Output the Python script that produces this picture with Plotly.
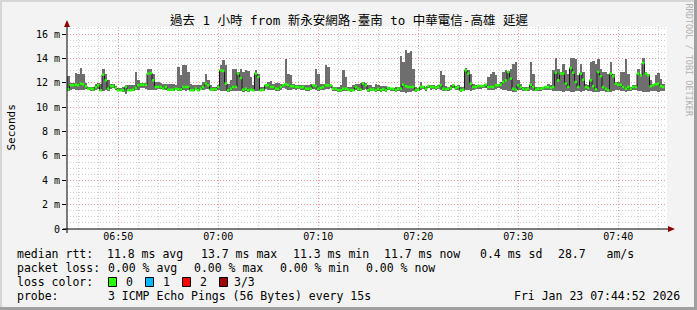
import numpy as np
import pandas as pd
import plotly.graph_objects as go

# ---------------- data (values in ms, one per 15 s step) ----------------
start_time = "2026-01-23 06:44:52"
end_time = "2026-01-23 07:44:52"
step_seconds = 15

median_ms = [
    11.48, 11.81, 11.81, 11.86, 11.81, 11.95, 11.89, 11.73, 11.53, 11.53,
    11.48, 11.67, 11.81, 11.40, 12.68, 12.22, 11.53, 11.75, 11.75, 11.59,
    11.40, 11.40, 11.40, 11.67, 11.40, 11.40, 11.45, 11.59, 11.81, 11.86,
    11.86, 11.86, 12.77, 12.82, 12.22, 11.67, 11.67, 11.67, 11.53, 11.67,
    11.45, 11.45, 11.45, 11.53, 11.48, 11.48, 11.67, 11.67, 11.67, 11.40,
    11.40, 11.53, 11.40, 11.53, 11.67, 11.95, 11.81, 11.45, 11.48, 11.48,
    11.67, 13.04, 12.99, 11.95, 11.40, 11.53, 11.67, 11.67, 12.77, 12.41,
    11.45, 11.53, 11.40, 11.45, 11.40, 12.77, 12.49, 11.40, 11.45, 11.81,
    11.81, 11.67, 11.67, 11.53, 11.53, 11.67, 11.81, 11.89, 11.86, 11.73,
    11.73, 11.67, 11.67, 11.62, 11.67, 11.53, 11.53, 11.53, 11.81, 11.75,
    11.53, 11.59, 11.67, 11.81, 11.81, 11.81, 11.53, 11.53, 11.40, 11.40,
    11.53, 11.53, 11.45, 11.40, 11.40, 11.67, 11.53, 11.45, 11.95, 11.81,
    11.40, 11.48, 11.45, 11.40, 11.53, 11.40, 11.48, 11.40, 11.59, 11.53,
    11.53, 11.40, 11.53, 11.53, 11.86, 11.73, 11.67, 11.67, 11.67, 11.40,
    11.45, 11.67, 11.67, 11.53, 11.75, 11.67, 11.67, 11.62, 11.67, 11.81,
    11.53, 11.48, 11.53, 11.59, 11.81, 11.59, 11.67, 11.40, 11.45, 13.04,
    12.77, 11.95, 11.67, 11.67, 11.75, 11.75, 11.75, 11.86, 11.67, 11.67,
    11.67, 11.81, 11.81, 11.86, 12.08, 12.22, 12.90, 12.36, 11.53, 11.45,
    11.81, 11.67, 11.53, 11.45, 11.53, 11.86, 11.67, 11.45, 11.53, 11.53,
    11.59, 11.67, 11.67, 11.59, 11.67, 12.85, 12.22, 12.77, 12.77, 11.95,
    11.67, 13.23, 12.85, 12.08, 11.67, 12.77, 12.27, 11.67, 11.59, 12.22,
    11.73, 11.48, 12.90, 12.55, 11.67, 11.53, 11.40, 12.77, 12.55, 11.95,
    11.86, 11.86, 11.67, 11.53, 11.67, 11.53, 11.67, 11.67, 12.77, 12.63,
    13.64, 12.77, 12.63, 11.73, 11.81, 11.89, 11.95, 11.73, 11.67, None,
]

max_ms = [
    12.55, 12.00, 12.00, 12.85, 12.77, 13.26, 12.77, 12.00, 11.67, 11.67,
    11.67, 11.95, 12.03, 11.95, 13.18, 12.77, 12.22, 11.95, 11.95, 11.73,
    11.59, 11.59, 11.67, 11.81, 11.86, 11.86, 11.81, 12.88, 12.22, 12.00,
    12.00, 12.00, 13.18, 13.15, 12.77, 12.08, 12.08, 12.00, 11.95, 11.95,
    11.95, 11.89, 11.95, 11.81, 13.32, 12.63, 13.45, 13.45, 12.90, 11.95,
    11.81, 11.81, 11.81, 11.81, 12.08, 12.77, 12.22, 11.81, 11.67, 11.67,
    11.81, 13.45, 13.86, 13.45, 11.95, 12.22, 13.18, 13.18, 12.90, 13.18,
    12.90, 13.04, 12.99, 12.49, 11.81, 13.04, 12.77, 11.67, 11.67, 11.95,
    12.08, 12.14, 11.95, 12.00, 12.00, 11.95, 11.95, 13.95, 12.77, 12.63,
    11.95, 11.86, 11.86, 11.81, 11.86, 11.81, 11.81, 11.89, 11.86, 13.18,
    12.77, 11.95, 11.95, 13.45, 13.32, 11.95, 11.67, 11.67, 11.67, 11.81,
    13.04, 12.49, 11.67, 11.67, 11.86, 11.95, 11.95, 12.00, 12.08, 12.00,
    11.81, 11.81, 11.67, 11.89, 11.81, 11.73, 11.73, 11.73, 11.67, 11.59,
    11.59, 11.67, 11.67, 14.19, 13.73, 14.68, 14.47, 14.60, 13.18, 11.67,
    11.59, 12.08, 11.75, 11.67, 11.81, 11.81, 11.81, 11.73, 11.81, 12.99,
    12.63, 11.73, 11.67, 11.81, 11.86, 11.73, 11.86, 11.67, 11.67, 13.26,
    13.10, 12.77, 11.95, 11.81, 11.86, 11.86, 11.86, 11.95, 12.49, 12.77,
    12.90, 12.63, 11.95, 12.08, 12.90, 13.04, 12.99, 13.18, 13.59, 13.73,
    12.22, 11.95, 11.67, 11.67, 11.67, 13.73, 12.77, 11.67, 11.67, 11.67,
    11.67, 11.75, 11.95, 11.81, 13.04, 14.08, 13.18, 12.90, 13.59, 13.04,
    12.77, 14.08, 14.08, 14.00, 12.63, 13.59, 12.90, 11.95, 11.81, 13.73,
    13.81, 13.59, 13.95, 13.18, 12.90, 12.90, 12.77, 13.73, 12.77, 12.08,
    12.08, 12.90, 12.90, 14.00, 12.77, 11.67, 11.81, 11.81, 13.18, 12.77,
    14.08, 12.90, 12.77, 12.22, 11.95, 12.63, 12.82, 12.36, 11.95, None,
]

min_ms = [
    11.35, 11.45, 11.50, 11.45, 11.40, 11.40, 11.45, 11.50, 11.40, 11.38,
    11.35, 11.45, 11.50, 11.30, 11.35, 11.40, 11.38, 11.50, 11.55, 11.45,
    11.30, 11.30, 11.28, 11.12, 11.30, 11.30, 11.35, 11.40, 11.45, 11.55,
    11.55, 11.50, 11.40, 11.45, 11.40, 11.45, 11.50, 11.50, 11.40, 11.45,
    11.35, 11.35, 11.35, 11.40, 11.30, 11.35, 11.40, 11.35, 11.40, 11.30,
    11.30, 11.40, 11.30, 11.40, 11.45, 11.50, 11.50, 11.35, 11.38, 11.38,
    11.45, 11.35, 11.30, 11.30, 11.28, 11.35, 11.30, 11.35, 11.30, 11.35,
    11.25, 11.30, 11.28, 11.30, 11.30, 11.35, 11.30, 11.30, 11.35, 11.50,
    11.45, 11.40, 11.45, 11.35, 11.38, 11.45, 11.55, 11.50, 11.45, 11.45,
    11.50, 11.45, 11.48, 11.45, 11.45, 11.35, 11.38, 11.40, 11.50, 11.45,
    11.35, 11.40, 11.45, 11.50, 11.50, 11.55, 11.35, 11.35, 11.28, 11.25,
    11.30, 11.35, 11.30, 11.28, 11.30, 11.40, 11.35, 11.30, 11.45, 11.50,
    11.28, 11.30, 11.30, 11.28, 11.35, 11.28, 11.30, 11.28, 11.40, 11.35,
    11.38, 11.28, 11.35, 11.22, 11.25, 11.20, 11.22, 11.25, 11.30, 11.28,
    11.30, 11.45, 11.50, 11.38, 11.55, 11.45, 11.50, 11.45, 11.50, 11.40,
    11.30, 11.35, 11.38, 11.40, 11.55, 11.40, 11.45, 11.28, 11.30, 11.40,
    11.40, 11.35, 11.45, 11.50, 11.50, 11.50, 11.55, 11.55, 11.45, 11.40,
    11.40, 11.50, 11.55, 11.50, 11.45, 11.40, 11.35, 11.30, 11.25, 11.28,
    11.45, 11.40, 11.35, 11.30, 11.35, 11.40, 11.38, 11.30, 11.35, 11.35,
    11.40, 11.45, 11.45, 11.40, 11.35, 11.30, 11.35, 11.30, 11.28, 11.35,
    11.30, 11.25, 11.28, 11.30, 11.30, 11.28, 11.30, 11.40, 11.35, 11.30,
    11.25, 11.22, 11.28, 11.30, 11.30, 11.28, 11.22, 11.28, 11.30, 11.40,
    11.45, 11.35, 11.30, 11.28, 11.35, 11.35, 11.40, 11.40, 11.30, 11.30,
    11.25, 11.22, 11.25, 11.30, 11.35, 11.30, 11.28, 11.35, 11.35, None,
]

y_tick_values = [0, 2, 4, 6, 8, 10, 12, 14, 16]
y_tick_labels = ["0", "2 m", "4 m", "6 m", "8 m", "10 m", "12 m", "14 m", "16 m"]

title_text = "過去 1 小時 from 新永安網路-臺南 to 中華電信-高雄 延遲"
legend_line1 = [("median rtt:", 15.5), ("11.8 ms avg", 106.3), ("13.7 ms max", 200.0),
                ("11.3 ms min", 292.3), ("11.7 ms now", 383.0), ("0.4 ms sd", 478.5),
                ("28.7   am/s", 557.3)]
legend_line2 = [("packet loss:", 15.5), ("0.00 % avg", 106.5), ("0.00 % max", 193.0),
                ("0.00 % min", 278.5), ("0.00 % now", 365.0)]
loss_labels = ["0", "1", "2", "3/3"]
loss_colors = ["#26ff00", "#00b8ff", "#ff0000", "#a00000"]
probe_text = "3 ICMP Echo Pings (56 Bytes) every 15s"
date_text = "Fri Jan 23 07:44:52 2026"

# ---------------- geometry helpers ----------------
W, H = 697, 310
L, R, T, B = 67, 667, 27, 229


def px(x):
    return (x - L) / (R - L)


def py(y):
    return (B - y) / (B - T)


MONO = "DejaVu Sans Mono, Noto Sans CJK TC, monospace"

n = len(median_ms)
t0 = pd.Timestamp(start_time)
step_start = t0 + pd.to_timedelta(np.arange(n) * step_seconds, unit="s")
step_end = step_start + pd.to_timedelta(step_seconds, unit="s")
step_mid = step_start + pd.to_timedelta(step_seconds / 2, unit="s")

med = np.array([np.nan if v is None else v for v in median_ms], dtype=float)
mx = np.array([np.nan if v is None else v for v in max_ms], dtype=float)
mn = np.array([np.nan if v is None else v for v in min_ms], dtype=float)

fig = go.Figure()

# smoke
fig.add_trace(go.Bar(
    x=step_mid, y=mx - mn, base=mn, width=step_seconds * 1000,
    marker=dict(color="#6e6e6e", line=dict(width=0)), hoverinfo="skip",
))
# dark median step line
fig.add_trace(go.Scatter(
    x=step_start, y=med, mode="lines", line=dict(color="#1a1a1a", width=1, shape="hv"),
    hoverinfo="skip",
))
# green median segments
gx, gy = [], []
for s, e, v in zip(step_start, step_end, med):
    if np.isnan(v):
        continue
    gx += [s, e, None]
    gy += [v, v, None]
fig.add_trace(go.Scatter(
    x=gx, y=gy, mode="lines", line=dict(color="#26ff00", width=2.5),
    connectgaps=False, hoverinfo="skip",
))

shapes = []
# frame shading
shapes.append(dict(type="rect", xref="paper", yref="paper", x0=px(0), x1=px(W), y0=py(0), y1=py(2),
                   fillcolor="#d6d6d6", line=dict(width=0), layer="above"))
shapes.append(dict(type="rect", xref="paper", yref="paper", x0=px(0), x1=px(2), y0=py(0), y1=py(H),
                   fillcolor="#d6d6d6", line=dict(width=0), layer="above"))
shapes.append(dict(type="rect", xref="paper", yref="paper", x0=px(W - 3), x1=px(W), y0=py(0), y1=py(H),
                   fillcolor="#a0a0a0", line=dict(width=0), layer="above"))
shapes.append(dict(type="rect", xref="paper", yref="paper", x0=px(0), x1=px(W), y0=py(H - 3), y1=py(H),
                   fillcolor="#a0a0a0", line=dict(width=0), layer="above"))
# axes
shapes.append(dict(type="line", xref="paper", yref="paper", x0=px(67), x1=px(67), y0=py(233), y1=py(25),
                   line=dict(color="#000000", width=1), layer="above"))
shapes.append(dict(type="line", xref="paper", yref="paper", x0=px(63), x1=px(669), y0=py(229), y1=py(229),
                   line=dict(color="#000000", width=1), layer="above"))
# arrows
shapes.append(dict(type="path", xref="paper", yref="paper",
                   path=f"M {px(64)},{py(27)} L {px(70)},{py(27)} L {px(67)},{py(20)} Z",
                   fillcolor="#8b0000", line=dict(width=0), layer="above"))
shapes.append(dict(type="path", xref="paper", yref="paper",
                   path=f"M {px(668)},{py(226)} L {px(668)},{py(232)} L {px(675)},{py(229)} Z",
                   fillcolor="#8b0000", line=dict(width=0), layer="above"))

annotations = []


def add_text(text, x, y, size=11.5, anchor="left", color="#000000", angle=0, family=MONO):
    annotations.append(dict(text=text, x=px(x), y=py(y), xref="paper", yref="paper",
                            xanchor=anchor, yanchor="middle", showarrow=False,
                            textangle=angle, borderpad=0,
                            font=dict(family=family, size=size, color=color)))


add_text(title_text, 348.5, 21, size=12.5, anchor="center")
add_text("Seconds", 10.5, 128, size=11, anchor="center", angle=-90)
add_text("RRDTOOL / TOBI OETIKER", 688.5, 60, size=8.5, anchor="center", angle=90, color="#b0b0b0")

for txt, x in legend_line1:
    add_text(txt, x, 254.3)
for txt, x in legend_line2:
    add_text(txt, x, 268.3)
add_text("loss color:", 15.5, 282.3)
box_x = [108.5, 145.5, 182.5, 219.5]
lab_x = [125.0, 161.8, 199.0, 232.5]
for lbl, col, bx, lx in zip(loss_labels, loss_colors, box_x, lab_x):
    shapes.append(dict(type="rect", xref="paper", yref="paper", x0=px(bx), x1=px(bx + 8),
                       y0=py(286.5), y1=py(277.5), fillcolor=col,
                       line=dict(color="#000000", width=1), layer="above"))
    add_text(lbl, lx, 282.3)
add_text("probe:", 15.5, 296)
add_text(probe_text, 106.5, 296)
add_text(date_text, 681, 296, anchor="right")

fig.update_layout(
    width=W, height=H,
    margin=dict(l=L, r=W - R, t=T, b=H - B, pad=0),
    paper_bgcolor="#f3f3f3", plot_bgcolor="#ffffff",
    showlegend=False, barmode="overlay", bargap=0,
    shapes=shapes, annotations=annotations,
    font=dict(family=MONO, color="#000000"),
)
fig.update_xaxes(
    type="date", range=[start_time, end_time],
    tick0="2026-01-23 06:50:00", dtick=600000, tickformat="%H:%M",
    showgrid=True, gridcolor="#f29a9a", griddash="1px,2px", gridwidth=1,
    minor=dict(dtick=120000, tick0="2026-01-23 06:50:00", showgrid=True,
               gridcolor="#cfcfcf", griddash="1px,2px", gridwidth=1),
    ticks="", showline=False, zeroline=False,
    tickfont=dict(family=MONO, size=10, color="#000000"),
)
fig.update_yaxes(
    range=[0, 16.6], tickvals=y_tick_values, ticktext=y_tick_labels,
    showgrid=True, gridcolor="#f29a9a", griddash="1px,2px", gridwidth=1,
    minor=dict(dtick=0.5, tick0=0, showgrid=True, gridcolor="#cfcfcf",
               griddash="1px,2px", gridwidth=1),
    ticks="outside", ticklen=4, tickcolor="#000000", tickwidth=1,
    showline=False, zeroline=False,
    tickfont=dict(family=MONO, size=10, color="#000000"),
)

fig.write_html("out.html")
